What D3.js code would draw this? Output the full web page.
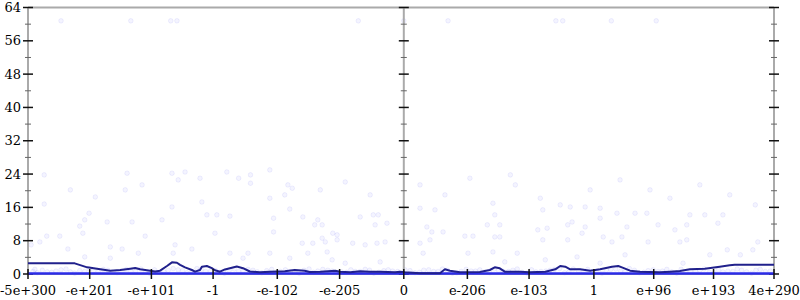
<!DOCTYPE html>
<html>
<head>
<meta charset="utf-8">
<script src="https://cdn.jsdelivr.net/npm/d3@7"></script>
<style>
  body { margin: 0; background: #fff; }
  text { font-family: "DejaVu Serif", serif; font-size: 13px; fill: #000; }
</style>
</head>
<body>
<div id="container"></div>
<script>
// x axis positions (in arbitrary "bit order" units) and their labels
const tickVals   = [-6.03, -5.04, -4.05, -3.06, -2.03, -1.03, 0, 1.02, 2.01, 3.05, 4.01, 4.97, 5.94];
const tickLabels = ["-5e+300", "-e+201", "-e+101", "-1", "-e-102", "-e-205", "0",
                    "e-206", "e-103", "1", "e+96", "e+193", "4e+290"];
const yMajor = [0, 8, 16, 24, 32, 40, 48, 56, 64];
const yMinor = [4, 12, 20, 28, 36, 44, 52, 60];

// running average line
const lineX = [-6.03,-5.28,-5.08,-4.87,-4.71,-4.55,-4.39,-4.31,-4.23,-4.07,-3.99,-3.91,-3.80,-3.72,-3.64,-3.59,
  -3.51,-3.40,-3.35,-3.27,-3.24,-3.16,-3.08,-3.03,-2.95,-2.87,-2.68,-2.58,-2.47,-2.31,-2.15,-1.91,-1.75,-1.59,
  -1.51,-1.34,-1.10,-1.02,-0.86,-0.70,-0.54,-0.38,-0.14,-0.06,0.02,0.26,0.58,0.66,0.74,0.90,1.22,1.38,1.46,1.54,
  1.62,1.86,2.02,2.27,2.43,2.51,2.59,2.67,2.83,2.99,3.15,3.34,3.44,3.50,3.63,3.79,3.95,4.11,4.27,4.43,4.59,4.83,
  5.07,5.23,5.31,5.94];
const lineY = [2.56,2.56,1.60,1.12,0.80,0.96,1.28,1.44,1.12,0.80,0.60,0.80,1.92,2.80,2.70,2.20,
  1.60,0.96,0.56,0.96,1.76,1.92,1.40,0.90,0.56,1.10,1.80,1.40,0.60,0.40,0.56,0.64,0.96,0.80,
  0.48,0.56,0.80,0.56,0.40,0.64,0.56,0.56,0.40,0.56,0.40,0.16,0.16,1.12,0.80,0.40,0.48,0.96,1.60,1.36,
  0.56,0.56,0.40,0.56,1.12,1.92,1.76,1.12,1.12,0.80,1.12,1.76,1.92,1.60,0.80,0.56,0.48,0.40,0.56,0.72,1.12,1.28,
  1.76,2.08,2.24,2.24];

// floor series (samples pinned at zero)
const floorX = [-6.03, 5.94];
const floorY = [0.15, 0.15];

// individual samples [x, value]
const samples = [
  [-5.77,16.8],[-5.05,14.6],[-5.20,11.5],[-5.12,13.0],[-4.76,12.5],[-4.36,12.5],[-3.88,13.0],[-3.72,16.1],
  [-3.24,17.3],[-3.16,14.2],[-3.00,14.2],[-2.79,13.9],[-5.73,9.1],[-5.52,9.1],[-5.15,9.8],[-4.15,9.1],
  [-3.67,7.0],[-3.03,9.8],[-2.50,5.0],[-4.71,6.5],[-4.52,6.0],[-4.26,5.0],[-3.70,5.0],[-3.40,6.0],
  [-5.39,6.0],[-5.98,7.0],[-5.84,7.7],[-4.71,3.8],[-2.79,5.0],[-2.58,3.8],[-5.12,4.1],
  [-1.83,15.6],[-1.62,13.7],[-2.09,13.4],[-0.49,14.2],[-0.41,14.2],[-0.70,13.7],[-1.38,13.0],[-0.27,12.2],
  [-1.43,11.8],[-1.31,11.8],[-0.46,11.8],[-1.07,9.4],[-1.14,9.8],[-2.09,10.1],[0.26,15.8],[0.50,15.4],
  [1.43,17.0],[1.34,11.8],[1.54,11.8],[1.46,14.2],[0.37,11.3],[0.45,10.1],[0.63,10.1],[0.98,9.1],
  [1.11,9.1],[1.46,8.9],[1.54,8.9],[-1.63,7.4],[-1.46,7.4],[-1.31,8.6],[-1.26,7.7],[-1.07,8.2],
  [-0.82,7.4],[-0.62,7.0],[-0.43,7.4],[-0.30,7.7],[0.26,7.4],[0.42,8.2],[-2.15,5.0],[-1.54,5.0],
  [-1.23,5.3],[-0.94,2.6],[-1.15,3.4],[-0.38,2.9],[0.31,5.0],[1.03,5.0],[1.43,5.3],[1.62,2.9],
  [1.82,5.0],[-1.83,3.8],
  [2.67,16.1],[2.51,16.6],[2.91,16.1],[2.23,15.4],[3.15,15.8],[3.42,14.6],[3.71,14.6],[3.90,14.6],
  [4.59,14.2],[4.83,14.2],[5.12,14.2],[2.70,12.5],[2.63,11.8],[2.91,11.3],[3.15,13.4],[3.58,11.3],
  [4.08,11.8],[4.54,11.8],[2.30,11.0],[2.15,10.6],[4.35,10.6],[5.04,12.2],[2.86,9.8],[3.20,8.9],
  [3.50,8.9],[3.92,7.7],[3.34,7.7],[4.43,7.7],[4.54,8.2],[5.68,7.7],[2.23,8.2],[2.63,8.2],
  [3.55,4.6],[3.15,2.6],[4.48,2.6],[4.91,4.6],[5.19,5.8],[5.40,4.6],[5.60,5.8],[2.27,3.4],[2.78,4.1],
  [-4.44,24.2],[-3.72,24.2],[-3.51,24.5],[-3.27,23.0],[-3.62,22.6],[-2.84,24.5],[-2.65,23.0],[-2.46,23.8],
  [-2.15,25.0],[-2.46,21.8],[-1.86,21.4],[-1.79,20.6],[-1.91,19.0],[-2.15,18.2],[-4.20,21.4],[-4.47,20.2],
  [-5.77,23.8],[-5.35,20.2],[-4.95,18.5],[-1.34,20.2],[-0.94,22.1],[-0.54,19.0],[0.26,21.4],[0.66,19.0],
  [1.06,23.0],[1.71,23.8],[1.79,21.4],[2.19,18.2],[2.99,20.2],[3.47,22.6],[3.95,20.2],[4.27,18.2],
  [4.75,21.4],[5.23,19.0],[5.64,16.6],
  [-5.50,60.8],[-4.38,60.8],[-3.74,60.8],[-3.64,60.8],[-0.73,60.8],[0.00,60.8],[0.71,60.8],[2.44,60.8],
  [2.55,60.8],[3.33,60.8],[4.05,60.8],
  [-5.95,0.6],[-5.8,0.9],[-5.65,0.4],[-5.5,1.0],[-5.35,0.5],[-5.2,0.8],[-5.05,1.2],[-4.9,0.5],[-4.75,0.9],
  [-4.6,0.3],[-4.45,1.1],[-4.3,0.7],[-4.15,0.4],[-4.0,1.0],[-3.85,0.6],[-3.7,1.3],[-3.55,0.8],[-3.4,0.5],
  [-3.25,1.1],[-3.1,0.7],[-2.95,0.4],[-2.8,0.9],[-2.65,0.6],[-2.5,1.1],[-2.35,0.5],[-2.2,0.8],[-2.05,0.3],
  [-1.9,1.0],[-1.75,0.6],[-1.6,0.9],[-1.45,0.4],[-1.3,1.1],[-1.15,0.7],[-1.0,0.5],[-0.85,1.0],[-0.7,0.6],
  [-0.55,0.9],[-0.4,0.4],[-0.25,1.0],[-0.1,0.6],[0.1,0.8],[0.25,0.4],[0.4,1.0],[0.55,0.6],[0.7,0.9],
  [0.85,0.3],[1.0,1.1],[1.15,0.7],[1.3,0.5],[1.45,1.2],[1.6,0.6],[1.75,0.9],[1.9,0.4],[2.05,1.0],[2.2,0.6],
  [2.35,0.9],[2.5,1.3],[2.65,0.5],[2.8,0.8],[2.95,1.1],[3.1,0.4],[3.25,0.9],[3.4,1.2],[3.55,0.6],[3.7,0.9],
  [3.85,0.4],[4.0,1.0],[4.15,0.7],[4.3,0.5],[4.45,1.1],[4.6,0.6],[4.75,0.9],[4.9,0.4],[5.05,1.0],[5.2,0.7],
  [5.35,1.2],[5.5,0.5],[5.65,0.9],[5.8,0.6],
  [-5.88,0.3],[-5.58,0.7],[-5.28,0.2],[-4.98,0.8],[-4.68,0.4],[-4.38,0.6],[-4.08,0.2],[-3.78,0.9],[-3.48,0.3],
  [-3.18,0.6],[-2.88,0.2],[-2.58,0.7],[-2.28,0.3],[-1.98,0.6],[-1.68,0.2],[-1.38,0.7],[-1.08,0.3],[-0.78,0.6],
  [-0.48,0.2],[-0.18,0.7],[0.18,0.3],[0.48,0.6],[0.78,0.2],[1.08,0.7],[1.38,0.3],[1.68,0.6],[1.98,0.2],
  [2.28,0.7],[2.58,0.3],[2.88,0.6],[3.18,0.2],[3.48,0.7],[3.78,0.3],[4.08,0.6],[4.38,0.2],[4.68,0.7],
  [4.98,0.3],[5.28,0.6],[5.58,0.2],[5.88,0.7],
  [-5.92,1.1],[-5.72,0.5],[-5.42,1.2],[-5.12,0.6],[-4.82,1.1],[-4.52,0.5],[-4.22,1.2],[-3.92,0.4],[-3.62,1.0],
  [-3.32,1.3],[-3.02,0.8],[-2.72,1.2],[-2.42,0.9],[-2.12,1.1],[-1.82,0.5],[-1.52,1.2],[-1.22,0.9],[-0.92,0.4],
  [-0.62,1.1],[-0.32,0.8],[0.02,1.0],[0.32,0.9],[0.62,1.2],[0.92,0.6],[1.22,1.0],[1.52,0.9],[1.82,1.2],
  [2.12,0.5],[2.42,1.1],[2.72,1.2],[3.02,0.5],[3.32,1.1],[3.62,1.3],[3.92,0.8],[4.22,1.1],[4.52,0.4],
  [4.82,1.2],[5.12,0.5],[5.42,0.9],[5.72,1.1]
];

const width = 800, height = 300;
const margin = { top: 7.5, right: 26, bottom: 26, left: 28 };

const svg = d3.select("#container").append("svg")
  .attr("width", width)
  .attr("height", height);

const x = d3.scaleLinear()
  .domain([tickVals[0], tickVals[tickVals.length - 1]])
  .range([margin.left, width - margin.right]);

const y = d3.scaleLinear()
  .domain([0, 64])
  .range([height - margin.bottom, margin.top]);

// scatter of samples
svg.append("g")
  .selectAll("circle")
  .data(samples)
  .join("circle")
    .attr("cx", d => x(d[0]))
    .attr("cy", d => y(d[1]))
    .attr("r", 2.3)
    .attr("fill", "rgba(40,40,255,0.05)")
    .attr("stroke", "rgba(40,40,230,0.09)")
    .attr("stroke-width", 0.8);

// frame: top border + bottom axis line
const axisGray = "#aaaaaa";
svg.append("line")
  .attr("x1", x.range()[0]).attr("x2", x.range()[1])
  .attr("y1", y(64)).attr("y2", y(64))
  .attr("stroke", axisGray).attr("stroke-width", 2);
svg.append("line")
  .attr("x1", x.range()[0]).attr("x2", x.range()[1])
  .attr("y1", y(0)).attr("y2", y(0))
  .attr("stroke", axisGray).attr("stroke-width", 2);

// vertical axes: left, middle (x = 0), right
const vAxes = [tickVals[0], 0, tickVals[tickVals.length - 1]];
vAxes.forEach((v, i) => {
  const g = svg.append("g").attr("transform", `translate(${x(v)},0)`);
  g.append("line")
    .attr("y1", y(0)).attr("y2", y(64))
    .attr("stroke", axisGray).attr("stroke-width", 2);
  g.selectAll("line.minor").data(yMinor).join("line")
    .attr("class", "minor")
    .attr("x1", -3).attr("x2", 3)
    .attr("y1", d => y(d)).attr("y2", d => y(d))
    .attr("stroke", "#666").attr("stroke-width", 1);
  g.selectAll("line.major").data(yMajor).join("line")
    .attr("class", "major")
    .attr("x1", -5).attr("x2", 5)
    .attr("y1", d => y(d)).attr("y2", d => y(d))
    .attr("stroke", "#111").attr("stroke-width", 1.5);
  if (i === 0) {
    g.selectAll("text").data(yMajor).join("text")
      .attr("x", -7)
      .attr("y", d => y(d))
      .attr("dy", "0.36em")
      .attr("text-anchor", "end")
      .text(d => d);
  }
});

// floor line at zero
const line = d3.line().x(d => x(d[0])).y(d => y(d[1]));
svg.append("path")
  .datum(floorX.map((v, i) => [v, floorY[i]]))
  .attr("d", line)
  .attr("fill", "none")
  .attr("stroke", "#2b2be8")
  .attr("stroke-width", 2.5);

// running average
svg.append("path")
  .datum(lineX.map((v, i) => [v, lineY[i]]))
  .attr("d", line)
  .attr("fill", "none")
  .attr("stroke", "#20208c")
  .attr("stroke-width", 2)
  .attr("stroke-linejoin", "round");

// x ticks + labels
const xg = svg.append("g");
xg.selectAll("line").data(tickVals).join("line")
  .attr("x1", d => x(d)).attr("x2", d => x(d))
  .attr("y1", y(0) - 5).attr("y2", y(0) + 5)
  .attr("stroke", "#111").attr("stroke-width", 1.5);
xg.selectAll("text").data(tickVals).join("text")
  .attr("x", d => x(d))
  .attr("y", 295)
  .attr("text-anchor", "middle")
  .text((d, i) => tickLabels[i]);
</script>
</body>
</html>
